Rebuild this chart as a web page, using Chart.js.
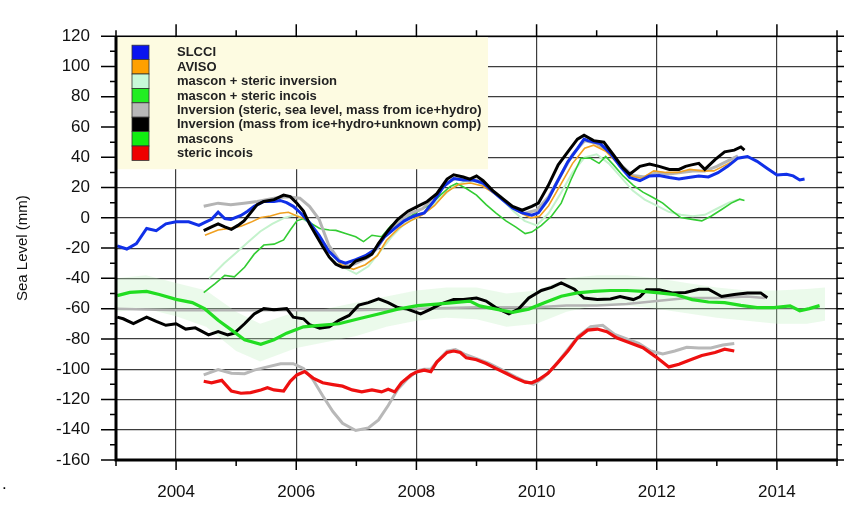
<!DOCTYPE html>
<html><head><meta charset="utf-8">
<script src="https://cdn.jsdelivr.net/npm/chart.js@4.4.1/dist/chart.umd.min.js"></script>
<style>
html,body{margin:0;padding:0;background:#fff;}
#wrap{position:relative;width:859px;height:505px;}
#dot{position:absolute;left:2px;top:474px;font:17px "Liberation Sans",Arial,sans-serif;color:#000;}
</style>
</head><body>
<div id="wrap"><canvas id="c" width="859" height="505"></canvas><span id="dot">.</span></div>
<script>
// ---- data: [decimal year, sea level (mm)] ----
const slcci = [[2003.02,-18.5],[2003.18,-20.6],[2003.34,-17],[2003.51,-7],[2003.67,-8.5],[2003.83,-4],[2004.0,-2.6],[2004.21,-2.6],[2004.38,-5],[2004.48,-3],[2004.59,-1],[2004.7,3.7],[2004.81,-0.5],[2004.91,-1],[2005.08,1.6],[2005.19,4.4],[2005.3,7.6],[2005.46,10.8],[2005.63,10.8],[2005.73,11.5],[2005.84,10],[2005.95,7.6],[2006.06,3.7],[2006.22,-3],[2006.38,-11.5],[2006.54,-22],[2006.71,-28.5],[2006.82,-30],[2006.99,-27.6],[2007.15,-25],[2007.31,-21],[2007.47,-12.6],[2007.64,-7],[2007.8,-2],[2007.96,1.2],[2008.13,3.3],[2008.29,11],[2008.45,20.6],[2008.62,26],[2008.78,25],[2008.94,25],[2009.11,23],[2009.27,17.4],[2009.43,12],[2009.6,6.5],[2009.76,3.3],[2009.92,1.7],[2010.03,3.3],[2010.19,12],[2010.36,25],[2010.52,37],[2010.68,45.7],[2010.79,52],[2010.85,51],[2011.06,49],[2011.23,42.6],[2011.39,34],[2011.55,26.6],[2011.72,24.5],[2011.88,27.7],[2012.04,28],[2012.21,26.6],[2012.37,25.6],[2012.53,26.6],[2012.7,27.7],[2012.86,27],[2013.02,29.8],[2013.18,34],[2013.35,39.4],[2013.51,40.5],[2013.67,37.3],[2013.84,32.6],[2014.0,28.3],[2014.16,28.8],[2014.27,27.7],[2014.38,25],[2014.46,25.6]];
const aviso = [[2004.48,-11.5],[2004.7,-8],[2004.91,-6.8],[2005.08,-5.5],[2005.24,-3],[2005.41,0.2],[2005.57,1.2],[2005.73,3],[2005.87,3.7],[2006.01,1.2],[2006.17,-1],[2006.35,-10],[2006.55,-22],[2006.75,-31],[2006.95,-34],[2007.15,-31],[2007.35,-25],[2007.5,-15],[2007.7,-7],[2007.9,-2],[2008.1,2],[2008.3,8],[2008.5,17],[2008.7,22],[2008.9,23],[2009.1,21],[2009.3,16],[2009.5,10],[2009.7,4],[2009.9,0],[2010.05,1],[2010.2,8],[2010.4,22],[2010.6,36],[2010.8,46],[2010.95,48],[2011.15,44],[2011.35,36],[2011.55,28],[2011.75,26],[2011.95,31],[2012.15,30],[2012.35,30],[2012.55,32],[2012.75,31],[2012.95,31],[2013.15,35],[2013.3,38]];
const masconStericInversion = [[2004.55,-40],[2004.8,-30],[2005.0,-23],[2005.2,-16],[2005.4,-9],[2005.6,-4],[2005.8,0],[2006.0,2],[2006.2,-3],[2006.4,-13],[2006.6,-25],[2006.8,-33],[2007.0,-37],[2007.2,-32],[2007.4,-22],[2007.6,-12],[2007.8,-4],[2008.0,0],[2008.2,5],[2008.4,13],[2008.6,20],[2008.8,24],[2009.0,24],[2009.2,19],[2009.4,13],[2009.6,5],[2009.8,-2],[2010.0,-5],[2010.2,3],[2010.4,16],[2010.6,30],[2010.8,40],[2011.0,42],[2011.2,36],[2011.4,27],[2011.6,18],[2011.8,12],[2012.0,8],[2012.2,4],[2012.4,2],[2012.6,1],[2012.8,2],[2013.0,6],[2013.2,10],[2013.35,12]];
const masconStericIncois = [[2004.46,-49.4],[2004.65,-43.4],[2004.81,-38],[2004.97,-39],[2005.14,-32.7],[2005.3,-24],[2005.46,-18],[2005.63,-17.4],[2005.79,-14.6],[2005.9,-8],[2006.01,-2],[2006.12,-0.5],[2006.22,-3],[2006.39,-7],[2006.55,-8],[2006.66,-8.3],[2006.82,-10.4],[2006.99,-12.5],[2007.12,-15.7],[2007.26,-11.5],[2007.42,-12.5],[2007.58,-5],[2007.75,-1],[2007.91,1.2],[2008.07,5.5],[2008.24,8.7],[2008.4,15],[2008.56,20.6],[2008.67,22.7],[2008.83,19.4],[2009.0,15],[2009.16,8.7],[2009.32,3.3],[2009.49,-2],[2009.65,-6],[2009.81,-10.4],[2009.92,-9.4],[2010.08,-5],[2010.25,1.2],[2010.41,9.7],[2010.57,25],[2010.74,39.4],[2010.9,39.4],[2011.04,36],[2011.15,40.5],[2011.28,35],[2011.44,27.7],[2011.61,21.4],[2011.77,17],[2011.93,13.6],[2012.1,9.7],[2012.26,4.4],[2012.4,0.2],[2012.59,-1],[2012.75,-2],[2012.91,1.2],[2013.08,5.5],[2013.24,9.7],[2013.38,12.3],[2013.46,11.4]];
const inversionStericUpper = [[2004.46,7.6],[2004.7,9.7],[2004.91,8.7],[2005.13,9.7],[2005.35,10.8],[2005.63,13],[2005.84,14],[2006.06,13],[2006.22,7.6],[2006.38,-1],[2006.54,-18],[2006.71,-28],[2006.87,-32],[2007.0,-30],[2007.2,-26],[2007.35,-20],[2007.5,-10],[2007.7,-3],[2007.9,3],[2008.1,6],[2008.3,14],[2008.5,23],[2008.65,26],[2008.8,25],[2009.0,25],[2009.2,20],[2009.4,14],[2009.6,7],[2009.8,3],[2010.0,5],[2010.2,14],[2010.4,28],[2010.6,42],[2010.8,51],[2011.0,49],[2011.2,44],[2011.4,35],[2011.6,28],[2011.8,27],[2012.0,30],[2012.2,29],[2012.4,30],[2012.6,31],[2012.8,31],[2013.0,34],[2013.2,38],[2013.35,41]];
const inversionStericLower = [[2003.0,-60],[2004.0,-61],[2005.0,-61],[2006.0,-61],[2007.0,-61],[2008.0,-60],[2009.0,-59],[2010.0,-59],[2010.5,-58],[2011.0,-58],[2011.5,-57],[2012.0,-55],[2012.5,-53],[2013.0,-53],[2013.5,-52],[2013.8,-53]];
const inversionStericSteric = [[2004.46,-103.8],[2004.7,-100.2],[2004.92,-102.7],[2005.14,-103],[2005.3,-100.6],[2005.52,-98.5],[2005.74,-96.4],[2005.95,-96.4],[2006.12,-99.5],[2006.28,-107],[2006.44,-117.6],[2006.61,-128],[2006.77,-135.7],[2006.99,-140.5],[2007.2,-138.8],[2007.37,-133.5],[2007.53,-124],[2007.69,-113.3],[2007.86,-106],[2008.02,-101],[2008.13,-100],[2008.24,-100],[2008.34,-95],[2008.51,-88],[2008.65,-87],[2008.8,-90],[2009.0,-93],[2009.2,-96],[2009.4,-100],[2009.6,-104],[2009.8,-108],[2009.95,-110],[2010.1,-106],[2010.3,-98],[2010.5,-88],[2010.7,-78],[2010.9,-72],[2011.1,-71],[2011.3,-77],[2011.5,-80],[2011.7,-83],[2011.9,-88],[2012.1,-90],[2012.3,-88],[2012.5,-85.5],[2012.7,-86],[2012.9,-86],[2013.1,-84],[2013.29,-83]];
const inversionUnknownUpper = [[2004.46,-8.5],[2004.59,-6],[2004.7,-4],[2004.81,-6],[2004.92,-7.6],[2005.03,-5],[2005.13,-2],[2005.24,3.3],[2005.35,8.7],[2005.46,10.8],[2005.63,12],[2005.79,15],[2005.9,14],[2006.01,9.7],[2006.12,4.4],[2006.22,-4],[2006.33,-11.5],[2006.44,-19],[2006.55,-26],[2006.66,-30.6],[2006.77,-32.7],[2006.88,-32.7],[2006.99,-28.5],[2007.15,-26.4],[2007.26,-24],[2007.37,-16.8],[2007.53,-8.3],[2007.69,-1],[2007.86,4.4],[2008.02,7.6],[2008.18,10.8],[2008.34,16],[2008.51,25.6],[2008.62,28.4],[2008.78,27],[2008.89,25.6],[2009.0,27.7],[2009.11,24.5],[2009.27,18],[2009.43,12.9],[2009.6,7.6],[2009.76,5],[2009.92,7.6],[2010.03,9.7],[2010.19,21],[2010.36,35],[2010.52,43.6],[2010.68,52],[2010.79,54.6],[2010.95,51],[2011.12,50],[2011.28,41.5],[2011.44,33],[2011.55,28.8],[2011.72,34],[2011.88,35.6],[2012.04,34],[2012.21,32],[2012.37,32],[2012.48,34],[2012.58,35],[2012.7,36],[2012.8,32],[2012.97,38.4],[2013.13,43.6],[2013.29,44.7],[2013.4,46.8],[2013.46,44.7]];
const inversionUnknownLower = [[2003.02,-65.6],[2003.12,-66.7],[2003.29,-69.9],[2003.51,-65.6],[2003.67,-68.4],[2003.83,-71],[2004.0,-70],[2004.16,-73.5],[2004.32,-72.7],[2004.54,-77.3],[2004.7,-75.2],[2004.86,-77.3],[2004.97,-76.2],[2005.14,-70],[2005.3,-63.5],[2005.46,-60],[2005.63,-60.8],[2005.84,-60],[2005.95,-65.6],[2006.12,-66.7],[2006.22,-70.5],[2006.39,-73],[2006.55,-72],[2006.71,-67.7],[2006.88,-64.5],[2007.04,-57.7],[2007.2,-56],[2007.37,-53.5],[2007.53,-56],[2007.69,-59.3],[2007.85,-60.3],[2008.07,-63.5],[2008.24,-60.3],[2008.4,-57],[2008.62,-54],[2008.78,-54],[2009.0,-53],[2009.16,-55],[2009.32,-59.3],[2009.54,-63.5],[2009.7,-60.3],[2009.87,-53],[2010.08,-48],[2010.25,-46],[2010.41,-43],[2010.63,-47.2],[2010.79,-53],[2011.01,-54],[2011.23,-53.6],[2011.39,-52],[2011.61,-54],[2011.72,-52.2],[2011.83,-47.6],[2012.04,-47.6],[2012.26,-49.6],[2012.48,-49.3],[2012.7,-47.2],[2012.86,-47.2],[2013.08,-52],[2013.29,-50.7],[2013.51,-49.6],[2013.73,-49.6],[2013.84,-52.8]];
const mascons = [[2003.02,-51.4],[2003.23,-49.3],[2003.51,-48.6],[2003.72,-50.7],[2004.0,-53.9],[2004.27,-56],[2004.48,-60.2],[2004.7,-67.7],[2004.92,-74],[2005.14,-80.5],[2005.41,-83.6],[2005.63,-80.5],[2005.84,-76.2],[2006.12,-72],[2006.39,-71],[2006.71,-70],[2007.04,-66.7],[2007.37,-63.5],[2007.69,-60.3],[2008.02,-58],[2008.34,-57],[2008.62,-56],[2008.89,-55],[2009.05,-58.2],[2009.32,-60.3],[2009.6,-62.4],[2009.87,-60.3],[2010.14,-56],[2010.41,-51.8],[2010.68,-49.6],[2010.95,-48.6],[2011.23,-48],[2011.5,-48],[2011.77,-48.6],[2012.04,-49.6],[2012.31,-50.7],[2012.59,-54],[2012.86,-55.6],[2013.13,-56],[2013.4,-57.8],[2013.67,-59.3],[2013.95,-59.3],[2014.22,-58.2],[2014.38,-61.4],[2014.54,-60],[2014.71,-58]];
const masconsBandUpper = [[2003.0,-40],[2003.5,-38],[2004.0,-43],[2004.5,-48],[2005.0,-62],[2005.4,-70],[2006.0,-62],[2006.5,-60],[2007.0,-56],[2007.5,-52],[2008.0,-48],[2008.5,-46],[2009.0,-46],[2009.5,-50],[2010.0,-48],[2010.5,-40],[2011.0,-38],[2011.5,-38],[2012.0,-40],[2012.5,-43],[2013.0,-46],[2013.5,-48],[2014.0,-48],[2014.5,-47],[2014.8,-46]];
const masconsBandLower = [[2003.0,-62],[2003.5,-60],[2004.0,-65],[2004.5,-72],[2005.0,-88],[2005.4,-95],[2006.0,-86],[2006.5,-82],[2007.0,-78],[2007.5,-72],[2008.0,-68],[2008.5,-66],[2009.0,-67],[2009.5,-72],[2010.0,-70],[2010.5,-62],[2011.0,-58],[2011.5,-58],[2012.0,-60],[2012.5,-63],[2013.0,-66],[2013.5,-68],[2014.0,-70],[2014.5,-70],[2014.8,-68]];
const stericIncois = [[2004.46,-108],[2004.59,-109],[2004.76,-107.4],[2004.92,-114.4],[2005.08,-115.9],[2005.24,-115.5],[2005.41,-113.7],[2005.52,-112.3],[2005.63,-113.7],[2005.79,-114.4],[2005.9,-108],[2006.01,-103.8],[2006.14,-101.6],[2006.28,-105.9],[2006.44,-109],[2006.61,-110.2],[2006.77,-111.2],[2006.93,-113.7],[2007.09,-115],[2007.26,-113.7],[2007.42,-115],[2007.53,-113.3],[2007.64,-115],[2007.75,-109],[2007.91,-103.8],[2008.02,-101.6],[2008.13,-100.6],[2008.24,-101.6],[2008.34,-95.3],[2008.51,-88.9],[2008.62,-88],[2008.73,-89],[2008.83,-92.5],[2009.0,-93.8],[2009.16,-96.3],[2009.32,-99.5],[2009.49,-102.7],[2009.65,-105.9],[2009.81,-108.6],[2009.92,-109],[2010.03,-107],[2010.19,-102.7],[2010.36,-95.3],[2010.52,-88],[2010.68,-79.5],[2010.85,-74.2],[2011.01,-73.5],[2011.17,-75.2],[2011.34,-79.4],[2011.55,-82.6],[2011.77,-85.8],[2011.99,-92],[2012.2,-98.5],[2012.37,-96.8],[2012.53,-94.2],[2012.75,-91],[2012.97,-89],[2013.13,-86.8],[2013.29,-88]];

const legendLabels = ['SLCCI','AVISO','mascon + steric inversion','mascon + steric incois','Inversion (steric, sea level, mass from ice+hydro)','Inversion (mass from ice+hydro+unknown comp)','mascons','steric incois'];
const legendColors = ['#0a14f0','#ffa000','#c8f8d8','#22ee22','#b8b8b8','#000000','#11ee11','#ee0000'];
const yearRange = [2003, 2015];
const levelRange = [-160, 120];
const axisTitle = 'Sea Level (mm)';

const pts = a => a.map(([x, y]) => ({x, y}));
function line(label, arr, color, width, order) {
  return {label, data: pts(arr), borderColor: color, backgroundColor: color, borderWidth: width,
    pointRadius: 0, fill: false, tension: 0, order};
}

const datasets = [
  {label: 'mascons band', data: pts(masconsBandUpper), borderWidth: 0, borderColor: 'rgba(0,0,0,0)',
   backgroundColor: 'rgba(190,240,190,0.3)', pointRadius: 0, fill: '+1', order: 20},
  {label: 'mascons band low', data: pts(masconsBandLower), borderWidth: 0, borderColor: 'rgba(0,0,0,0)',
   pointRadius: 0, fill: false, order: 21},
  line(legendLabels[2], masconStericInversion, '#c4f2cc', 2, 9),
  line(legendLabels[3], masconStericIncois, '#33cc33', 1.6, 8),
  line(legendLabels[4], inversionStericUpper, '#b4b4b4', 3, 7),
  line(legendLabels[4], inversionStericLower, '#b4b4b4', 2.5, 7),
  line(legendLabels[4], inversionStericSteric, '#b8b8b8', 3, 6),
  line(legendLabels[1], aviso, '#f0a020', 1.6, 5),
  line(legendLabels[0], slcci, '#1030e8', 3, 3),
  line(legendLabels[5], inversionUnknownLower, '#000000', 3, 4),
  line(legendLabels[6], mascons, '#22dd22', 3.2, 2),
  line(legendLabels[7], stericIncois, '#ee1010', 3.2, 2),
  line(legendLabels[5], inversionUnknownUpper, '#000000', 3, 0),
];

const LEFT_PAD = 10;
const frame = {
  id: 'frame',
  beforeDatasetsDraw(chart) {
    const ctx = chart.ctx, a = chart.chartArea;
    ctx.save();
    ctx.fillStyle = '#fdfbe1';
    ctx.fillRect(a.left + 1, a.top + 1, 371, 132);
    const sx = a.left + 16, sw = 17, rh = 14.4, sy0 = a.top + 9;
    ctx.font = 'bold 13px "Liberation Sans", Arial, sans-serif';
    ctx.textBaseline = 'middle';
    legendLabels.forEach((t, i) => {
      const y = sy0 + i * rh;
      ctx.fillStyle = legendColors[i];
      ctx.fillRect(sx, y, sw, rh);
      ctx.strokeStyle = '#333';
      ctx.lineWidth = 0.8;
      ctx.strokeRect(sx, y, sw, rh);
      ctx.fillStyle = '#222';
      ctx.fillText(t, a.left + 61, y + rh / 2 + 0.5);
    });
    ctx.restore();
  },
  afterDatasetsDraw(chart) {
    const ctx = chart.ctx, a = chart.chartArea, xs = chart.scales.x, ys = chart.scales.y;
    ctx.save();
    ctx.strokeStyle = '#000';
    ctx.lineWidth = 3;
    ctx.beginPath(); ctx.moveTo(a.left, a.top); ctx.lineTo(a.left, a.bottom + 1.5);
    ctx.moveTo(a.left - 1.5, a.bottom); ctx.lineTo(a.right + 1, a.bottom); ctx.stroke();
    ctx.lineWidth = 1.5;
    ctx.beginPath(); ctx.moveTo(a.left, a.top); ctx.lineTo(a.right, a.top);
    ctx.moveTo(a.right, a.top); ctx.lineTo(a.right, a.bottom); ctx.stroke();
    ctx.lineWidth = 1.5;
    ctx.beginPath();
    xs.ticks.forEach(t => {
      const x = xs.getPixelForValue(t.value);
      const major = t.value % 2 === 0;
      const L = major ? 12 : 6;
      ctx.moveTo(x, a.bottom); ctx.lineTo(x, a.bottom + (major ? 10 : 6));
      ctx.moveTo(x, a.top); ctx.lineTo(x, a.top - L);
    });
    ys.ticks.forEach(t => {
      const y = ys.getPixelForValue(t.value);
      const major = t.value % 20 === 0;
      ctx.moveTo(a.left, y); ctx.lineTo(a.left - (major ? 15 : 6), y);
      ctx.moveTo(a.right, y); ctx.lineTo(a.right + (major ? 7 : 5), y);
    });
    ctx.stroke();
    ctx.restore();
  }
};

new Chart(document.getElementById('c'), {
  type: 'line',
  data: {datasets},
  options: {
    responsive: false,
    animation: false,
    events: [],
    layout: {padding: {left: LEFT_PAD, right: 8, top: 20, bottom: 0}},
    plugins: {legend: {display: false}, tooltip: {enabled: false}},
    scales: {
      x: {
        type: 'linear', min: yearRange[0], max: yearRange[1],
        afterFit: s => { s.height = 45; },
        border: {display: false},
        grid: {drawTicks: false, lineWidth: 1.2,
          color: c => (c.tick && c.tick.value % 2 === 0) ? 'rgba(40,40,40,0.9)' : 'rgba(0,0,0,0)'},
        ticks: {stepSize: 1, autoSkip: false, maxRotation: 0, padding: 22, color: '#111',
          font: {family: '"Liberation Sans", Arial, sans-serif', size: 17},
          callback: v => (v % 2 === 0 && v > yearRange[0] && v < yearRange[1]) ? String(v) : ''}
      },
      y: {
        min: levelRange[0], max: levelRange[1],
        afterFit: s => { s.width = 116 - LEFT_PAD; },
        border: {display: false},
        grid: {drawTicks: false, lineWidth: 1.2,
          color: c => (c.tick && c.tick.value % 20 === 0) ? 'rgba(40,40,40,0.9)' : 'rgba(0,0,0,0)'},
        ticks: {stepSize: 10, autoSkip: false, padding: 26, color: '#111',
          font: {family: '"Liberation Sans", Arial, sans-serif', size: 17},
          callback: v => v % 20 === 0 ? String(v) : ''},
        title: {display: true, text: axisTitle, color: '#111', padding: {top: 4, bottom: 0},
          font: {family: '"Liberation Sans", Arial, sans-serif', size: 15}}
      }
    }
  },
  plugins: [frame]
});
</script>
</body></html>
